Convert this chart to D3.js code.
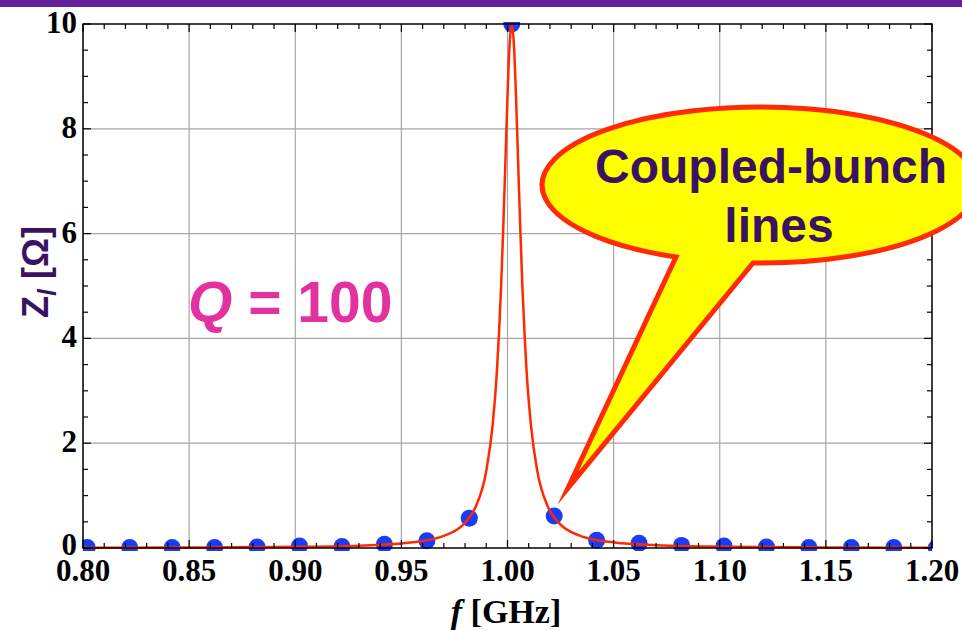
<meta charset="utf-8">
<style>
body { margin: 0; background: white; }
.tick-label { font-family: "Liberation Serif", "Times New Roman", serif; font-weight: bold; font-size: 31px; fill: #000; }
.grid { stroke: #a6a6a6; stroke-width: 1.2; }
</style>
<body>
<script src="https://cdnjs.cloudflare.com/ajax/libs/d3/7.8.5/d3.min.js"></script>
<script>

// resonator impedance curve
var curveF = [0.80,0.85,0.90,0.93,0.95,0.96,0.97,0.98,0.985,0.99,0.993,0.995,0.996,0.997,0.998,0.999,1.000,1.001,1.002,1.003,1.004,1.005,1.006,1.007,1.008,1.009,1.011,1.014,1.019,1.024,1.034,1.044,1.054,1.074,1.10,1.15,1.20];
var curveZ = [0.005,0.009,0.022,0.045,0.088,0.134,0.232,0.483,0.786,1.47,2.35,3.37,4.11,5.00,6.11,7.36,8.62,9.62,10,9.62,8.63,7.37,6.12,5.00,4.11,3.37,2.36,1.48,0.79,0.49,0.235,0.137,0.09,0.047,0.025,0.011,0.006];

// coupled-bunch lines
var lineF = [0.802,0.822,0.842,0.862,0.882,0.902,0.922,0.942,0.962,0.982,1.002,1.022,1.042,1.062,1.082,1.102,1.122,1.142,1.162,1.182,1.202];
var lineZ = [0.01,0.01,0.01,0.01,0.02,0.04,0.03,0.07,0.14,0.57,10,0.61,0.15,0.09,0.05,0.04,0.02,0.01,0.01,0.01,0.0];

var fTicks = [0.80,0.85,0.90,0.95,1.00,1.05,1.10,1.15,1.20];
var zTicks = [0,2,4,6,8,10];

var width = 962, height = 630;
var margin = {top: 24, right: 30, bottom: 82, left: 83};
var pw = width - margin.left - margin.right;
var ph = height - margin.top - margin.bottom;

var svg = d3.select("body").append("svg")
    .attr("width", width)
    .attr("height", height);

// purple band at the top
svg.append("rect")
    .attr("x", 0).attr("y", 0)
    .attr("width", width).attr("height", 7)
    .attr("fill", "#62209e");

var x = d3.scaleLinear().domain([0.8, 1.2]).range([margin.left, margin.left + pw]);
var y = d3.scaleLinear().domain([0, 10]).range([margin.top + ph, margin.top]);

svg.append("clipPath").attr("id", "clip")
  .append("rect")
    .attr("x", margin.left).attr("y", margin.top - 2)
    .attr("width", pw).attr("height", ph + 5);

// grid
svg.selectAll(".vgrid")
    .data(fTicks)
  .enter().append("line")
    .attr("class", "grid")
    .attr("x1", function(d) { return x(d); })
    .attr("x2", function(d) { return x(d); })
    .attr("y1", margin.top)
    .attr("y2", margin.top + ph);

svg.selectAll(".hgrid")
    .data(zTicks)
  .enter().append("line")
    .attr("class", "grid")
    .attr("x1", margin.left)
    .attr("x2", margin.left + pw)
    .attr("y1", function(d) { return y(d); })
    .attr("y2", function(d) { return y(d); });

var plot = svg.append("g").attr("clip-path", "url(#clip)");

plot.selectAll("circle")
    .data(lineF)
  .enter().append("circle")
    .attr("cx", function(d) { return x(d); })
    .attr("cy", function(d, i) { return y(lineZ[i]); })
    .attr("r", 8.5)
    .attr("fill", "#1a3cf8");

var line = d3.line()
    .x(function(d) { return x(d[0]); })
    .y(function(d) { return y(d[1]); })
    .curve(d3.curveMonotoneX);

plot.append("path")
    .datum(d3.zip(curveF, curveZ))
    .attr("d", line)
    .attr("fill", "none")
    .attr("stroke", "#ff2a00")
    .attr("stroke-width", 2.5);

// ticks, inward on all four sides
var fMinor = d3.range(80, 121).map(function(d) { return d / 100; });
var zMinor = d3.range(0, 21).map(function(d) { return d / 2; });

function isMajorF(d) { return Math.abs(d * 20 - Math.round(d * 20)) < 1e-6; }
function isMajorZ(d) { return d % 2 == 0; }

var ticks = svg.append("g").attr("stroke", "#000").attr("stroke-width", 1.2);

fMinor.forEach(function(d) {
  var len = isMajorF(d) ? 8 : 5;
  ticks.append("line").attr("x1", x(d)).attr("x2", x(d))
      .attr("y1", margin.top + ph).attr("y2", margin.top + ph - len);
  ticks.append("line").attr("x1", x(d)).attr("x2", x(d))
      .attr("y1", margin.top).attr("y2", margin.top + len);
});

zMinor.forEach(function(d) {
  var len = isMajorZ(d) ? 8 : 5;
  ticks.append("line").attr("y1", y(d)).attr("y2", y(d))
      .attr("x1", margin.left).attr("x2", margin.left + len);
  ticks.append("line").attr("y1", y(d)).attr("y2", y(d))
      .attr("x1", margin.left + pw).attr("x2", margin.left + pw - len);
});

svg.append("rect")
    .attr("x", margin.left).attr("y", margin.top)
    .attr("width", pw).attr("height", ph)
    .attr("fill", "none")
    .attr("stroke", "#000")
    .attr("stroke-width", 1.4);

// tick labels
svg.selectAll(".xlab")
    .data(fTicks)
  .enter().append("text")
    .attr("class", "tick-label")
    .attr("x", function(d) { return x(d); })
    .attr("y", 581)
    .attr("text-anchor", "middle")
    .text(d3.format(".2f"));

svg.selectAll(".ylab")
    .data(zTicks)
  .enter().append("text")
    .attr("class", "tick-label")
    .attr("x", 77)
    .attr("y", function(d) { return y(d) + (d == 0 ? 7 : 9); })
    .attr("text-anchor", "end")
    .text(function(d) { return d; });

// axis titles
var xt = svg.append("text")
    .attr("x", 506)
    .attr("y", 623)
    .attr("text-anchor", "middle")
    .style("font-family", "'Liberation Serif', 'Times New Roman', serif")
    .style("font-weight", "bold")
    .style("font-size", "34px");
xt.append("tspan").style("font-style", "italic").text("f");
xt.append("tspan").text(" [GHz]");

var yt = svg.append("text")
    .attr("transform", "translate(48,272) rotate(-90)")
    .attr("text-anchor", "middle")
    .style("font-family", "'Liberation Sans', Arial, sans-serif")
    .style("font-weight", "bold")
    .style("font-size", "36px")
    .attr("fill", "#3a1262");
yt.append("tspan").text("Z");
yt.append("tspan").attr("dy", 8).style("font-size", "25px").style("font-style", "italic").text("l");
yt.append("tspan").attr("dy", -8).text(" [Ω]");

// Q label
var qt = svg.append("text")
    .attr("x", 188)
    .attr("y", 322)
    .style("font-family", "'Liberation Sans', Arial, sans-serif")
    .style("font-weight", "bold")
    .style("font-size", "57px")
    .attr("fill", "#e2329f");
qt.append("tspan").style("font-style", "italic").text("Q");
qt.append("tspan").text(" = 100");

// callout balloon
var ce = {cx: 764, cy: 185, rx: 218, ry: 78};
var balloon = "M676,257 L568,488 L753,263 A" + ce.rx + "," + ce.ry + " 0 1 0 676,257 Z";
svg.append("path")
    .attr("d", balloon)
    .attr("fill", "#ffff00")
    .attr("stroke", "#ff2a00")
    .attr("stroke-width", 5)
    .attr("stroke-linejoin", "miter")
    .attr("stroke-miterlimit", 20);

svg.append("text")
    .attr("x", 771).attr("y", 183)
    .attr("text-anchor", "middle")
    .style("font-family", "'Liberation Sans', Arial, sans-serif")
    .style("font-weight", "bold")
    .style("font-size", "48px")
    .attr("fill", "#3a1262")
    .text("Coupled-bunch");

svg.append("text")
    .attr("x", 779).attr("y", 242)
    .attr("text-anchor", "middle")
    .style("font-family", "'Liberation Sans', Arial, sans-serif")
    .style("font-weight", "bold")
    .style("font-size", "48px")
    .attr("fill", "#3a1262")
    .text("lines");

</script>
